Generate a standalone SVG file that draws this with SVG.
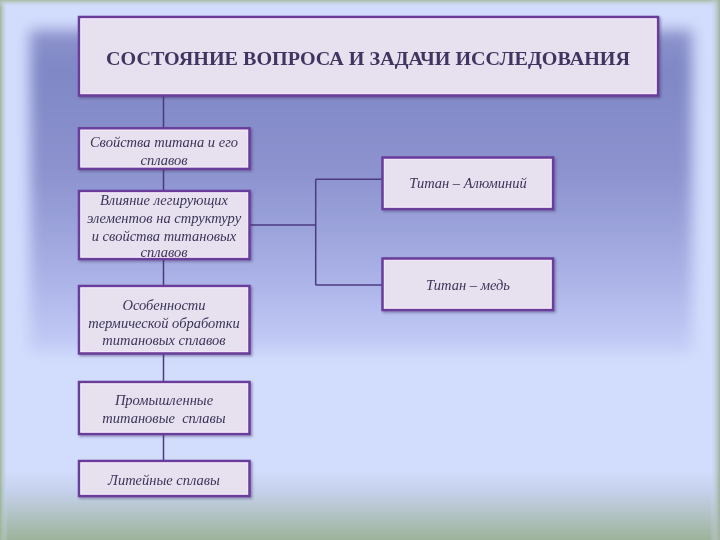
<svg xmlns="http://www.w3.org/2000/svg" width="720" height="540" viewBox="0 0 720 540">
<defs>
<linearGradient id="bgBottom" x1="0" y1="0" x2="0" y2="1">
<stop offset="0" stop-color="#d2dcfc"/>
<stop offset="0.3" stop-color="#c5d1ec"/>
<stop offset="1" stop-color="#9db39a"/>
</linearGradient>
<linearGradient id="edgeL" x1="0" y1="0" x2="1" y2="0">
<stop offset="0" stop-color="#9cb697"/>
<stop offset="1" stop-color="#d2dcfc" stop-opacity="0"/>
</linearGradient>
<linearGradient id="edgeT" x1="0" y1="0" x2="0" y2="1">
<stop offset="0" stop-color="#a8bca4"/>
<stop offset="1" stop-color="#d2dcfc" stop-opacity="0"/>
</linearGradient>
<linearGradient id="edgeR" x1="0" y1="0" x2="1" y2="0">
<stop offset="0" stop-color="#d2dcfc" stop-opacity="0"/>
<stop offset="1" stop-color="#9fb19c"/>
</linearGradient>
<linearGradient id="panel" x1="0" y1="0" x2="0" y2="1">
<stop offset="0" stop-color="#8d94cd"/>
<stop offset="0.12" stop-color="#7f87c5"/>
<stop offset="0.45" stop-color="#8c93cf"/>
<stop offset="0.75" stop-color="#a8b0e5"/>
<stop offset="1" stop-color="#c4cef7"/>
</linearGradient>
<filter id="blur" x="-5%" y="-5%" width="110%" height="110%">
<feGaussianBlur stdDeviation="7"/>
</filter>
<filter id="shadow" x="-5%" y="-10%" width="115%" height="130%">
<feDropShadow dx="1.5" dy="1.5" stdDeviation="1" flood-color="#3a2d5a" flood-opacity="0.45"/>
</filter>
</defs>
<style>
.box{fill:#e6e0ef;stroke:#6a3d9c;stroke-width:2.5}
.hl{fill:none;stroke:#f4e6fa;stroke-width:1}
.t{font-family:"Liberation Serif","Times New Roman",serif;font-style:italic;font-size:14.5px;fill:#3b3458;text-anchor:middle}
.title{font-family:"Liberation Serif","Times New Roman",serif;font-weight:bold;font-size:19px;fill:#3f3660;text-anchor:middle}
.c{fill:none;stroke:#4b3a80;stroke-width:1.5}
</style>
<g id="background">
<rect x="0" y="0" width="720" height="540" fill="#d2dcfc"/>
<rect x="0" y="470" width="720" height="70" fill="url(#bgBottom)"/>
<rect x="30" y="30" width="662" height="322" fill="url(#panel)" filter="url(#blur)"/>
<rect x="0" y="0" width="8" height="540" fill="url(#edgeL)"/>
<rect x="0" y="0" width="720" height="7" fill="url(#edgeT)"/>
<rect x="710" y="0" width="10" height="540" fill="url(#edgeR)"/>
</g>
<g id="connectors">
<path class="c" d="M163.5 96 V128 M163.5 169 V191 M163.5 259 V286 M163.5 353 V382 M163.5 434 V461"/>
<path class="c" d="M250 225 H315.7 M315.7 179.3 V285 M315.7 179.3 H382 M315.7 285 H382"/>
</g>
<g id="title" filter="url(#shadow)">
<rect class="box" x="79" y="17" width="579" height="78.5"/>
<rect class="hl" x="81" y="19" width="575" height="74.5"/>
<text class="title" x="368" y="64.5" textLength="524" lengthAdjust="spacingAndGlyphs">СОСТОЯНИЕ ВОПРОСА И ЗАДАЧИ ИССЛЕДОВАНИЯ</text>
</g>
<g id="node-properties" filter="url(#shadow)">
<rect class="box" x="79" y="128.3" width="170.5" height="40.5"/>
<rect class="hl" x="81" y="130.3" width="166.5" height="36.5"/>
<text class="t" x="164" y="147">Свойства титана и его</text>
<text class="t" x="164" y="164.5">сплавов</text>
</g>
<g id="node-alloying" filter="url(#shadow)">
<rect class="box" x="79" y="191" width="170.5" height="68"/>
<rect class="hl" x="81" y="193" width="166.5" height="64"/>
<text class="t" x="164" y="204.5">Влияние легирующих</text>
<text class="t" x="164" y="222.5">элементов на структуру</text>
<text class="t" x="164" y="240.5">и свойства титановых</text>
<text class="t" x="164" y="257">сплавов</text>
</g>
<g id="node-heat" filter="url(#shadow)">
<rect class="box" x="79" y="286" width="170.5" height="67.5"/>
<rect class="hl" x="81" y="288" width="166.5" height="63.5"/>
<text class="t" x="164" y="309.5">Особенности</text>
<text class="t" x="164" y="327.5">термической обработки</text>
<text class="t" x="164" y="344.5">титановых сплавов</text>
</g>
<g id="node-industrial" filter="url(#shadow)">
<rect class="box" x="79" y="382" width="170.5" height="52"/>
<rect class="hl" x="81" y="384" width="166.5" height="48"/>
<text class="t" x="164" y="405">Промышленные</text>
<text class="t" x="164" y="422.5" xml:space="preserve">титановые  сплавы</text>
</g>
<g id="node-cast" filter="url(#shadow)">
<rect class="box" x="79" y="461" width="170.5" height="35"/>
<rect class="hl" x="81" y="463" width="166.5" height="31"/>
<text class="t" x="164" y="484.5">Литейные сплавы</text>
</g>
<g id="node-ti-al" filter="url(#shadow)">
<rect class="box" x="382.5" y="157.5" width="170.5" height="51.5"/>
<rect class="hl" x="384.5" y="159.5" width="166.5" height="47.5"/>
<text class="t" x="468" y="188">Титан – Алюминий</text>
</g>
<g id="node-ti-cu" filter="url(#shadow)">
<rect class="box" x="382.5" y="258.5" width="170.5" height="51.5"/>
<rect class="hl" x="384.5" y="260.5" width="166.5" height="47.5"/>
<text class="t" x="468" y="289.5">Титан – медь</text>
</g>
</svg>
